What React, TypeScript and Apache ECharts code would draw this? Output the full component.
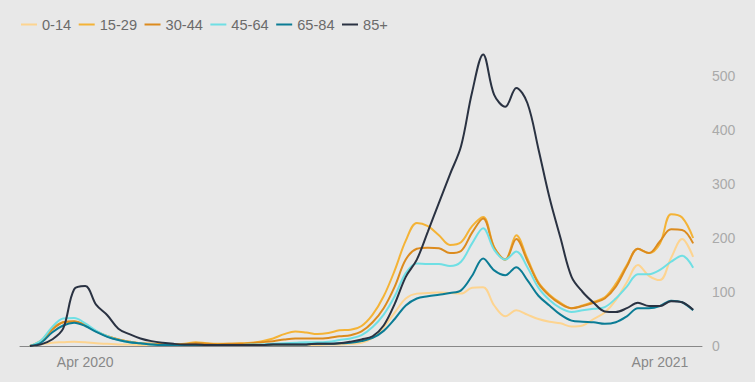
import React, { useEffect, useRef } from "react";
import * as echarts from "echarts";

const seriesNames = ["0-14", "15-29", "30-44", "45-64", "65-84", "85+"];
const seriesColors = ["#fdd490", "#f4b336", "#dc8b1e", "#6fdfe4", "#0b7c95", "#2a3242"];

// weekly points, first week = week index 0
const xTickWeeks = [5, 57];
const xTickLabels = ["Apr 2020", "Apr 2021"];
const yTicks = [0, 100, 200, 300, 400, 500];

const age0_14 = [0, 3, 6, 7, 8, 7, 5, 4, 3, 3, 2, 2, 2, 2, 2, 2, 2, 2, 2, 2, 2, 2, 2, 2, 2, 2, 2, 3, 3, 4, 6, 15, 35, 62, 88, 97, 98, 99, 98, 97, 108, 109, 75, 55, 66, 58, 50, 45, 42, 36, 38, 50, 62, 85, 118, 150, 130, 122, 163, 198, 165];
const age15_29 = [0, 10, 32, 44, 45, 38, 27, 18, 12, 8, 5, 4, 3, 3, 4, 7, 5, 4, 4, 5, 6, 9, 14, 22, 27, 25, 22, 24, 29, 30, 37, 58, 92, 140, 195, 228, 222, 205, 187, 192, 222, 239, 183, 160, 205, 162, 118, 95, 80, 70, 75, 82, 90, 115, 150, 180, 172, 190, 244, 238, 200];
const age30_44 = [0, 8, 30, 44, 46, 39, 27, 18, 12, 8, 5, 4, 3, 3, 3, 5, 4, 3, 4, 4, 5, 7, 9, 12, 14, 14, 14, 15, 18, 20, 27, 44, 70, 110, 160, 180, 182, 181, 172, 176, 210, 236, 182, 160, 198, 158, 116, 93, 78, 70, 74, 80, 88, 110, 147, 180, 172, 194, 216, 215, 190];
const age45_64 = [0, 10, 35, 51, 52, 42, 28, 18, 11, 7, 5, 3, 2, 2, 2, 2, 2, 2, 2, 2, 3, 3, 4, 5, 6, 7, 7, 8, 11, 14, 20, 35, 58, 92, 135, 153, 152, 152, 148, 156, 190, 218, 178, 160, 175, 146, 108, 85, 70, 63, 66, 69, 72, 88, 110, 133, 133, 141, 156, 167, 145];
const age65_84 = [0, 6, 25, 38, 43, 37, 26, 17, 11, 7, 5, 3, 2, 2, 2, 2, 2, 2, 2, 2, 2, 2, 3, 3, 3, 3, 4, 4, 5, 6, 9, 15, 28, 50, 75, 88, 92, 95, 98, 103, 130, 162, 140, 131, 146, 122, 93, 75, 58, 47, 45, 44, 41, 44, 55, 70, 70, 74, 84, 81, 66];
const age85plus = [0, 3, 12, 32, 105, 111, 76, 57, 32, 22, 14, 9, 6, 4, 3, 3, 2, 2, 2, 2, 2, 2, 3, 3, 3, 3, 4, 4, 5, 8, 12, 18, 38, 78, 128, 160, 212, 265, 318, 370, 470, 540, 465, 443, 478, 450, 365, 275, 200, 128, 100, 80, 64, 63, 70, 80, 74, 74, 83, 81, 67];

const seriesValues = [age0_14, age15_29, age30_44, age45_64, age65_84, age85plus];

export default function App() {
  const ref = useRef<HTMLDivElement>(null);
  useEffect(() => {
    if (!ref.current) return;
    const chart = echarts.init(ref.current, null, { renderer: "svg" });
    const font = "'Liberation Sans', Arial, sans-serif";
    const n = age0_14.length;
    chart.setOption({
      animation: false,
      backgroundColor: "#e8e8e8",
      textStyle: { fontFamily: font },
      legend: {
        left: 16,
        top: 12,
        icon: "rect",
        itemWidth: 16,
        itemHeight: 2,
        itemGap: 7.5,
        textStyle: { color: "#6b6b6b", fontSize: 14.6, fontFamily: font },
        data: seriesNames,
      },
      grid: { left: 20, right: 53, top: 76, bottom: 36, containLabel: false },
      xAxis: {
        type: "value",
        min: -0.9,
        max: n - 1 + 0.8,
        axisLine: { show: true, lineStyle: { color: "#888", width: 1 } },
        axisTick: { show: false },
        splitLine: { show: false },
        axisLabel: {
          customValues: xTickWeeks,
          color: "#888",
          fontSize: 14,
          margin: 9,
          fontFamily: font,
          formatter: (v: number) => {
            const i = xTickWeeks.indexOf(Math.round(v));
            return i >= 0 ? xTickLabels[i] : "";
          },
        },
      },
      yAxis: {
        type: "value",
        position: "right",
        min: yTicks[0],
        max: yTicks[yTicks.length - 1],
        interval: 100,
        axisLine: { show: false },
        axisTick: { show: false },
        splitLine: { show: false },
        axisLabel: { color: "#aaa", fontSize: 14, margin: 10, fontFamily: font },
      },
      series: seriesNames.map((name, k) => ({
        name,
        type: "line",
        smooth: 0.35,
        symbol: "none",
        clip: false,
        color: seriesColors[k],
        lineStyle: { width: 2, color: seriesColors[k] },
        data: seriesValues[k].map((v, i) => [i, v]),
      })),
    });
    return () => chart.dispose();
  }, []);
  return (
    <div
      ref={ref}
      style={{ position: "fixed", left: 0, top: 0, width: 755, height: 382 }}
    />
  );
}
